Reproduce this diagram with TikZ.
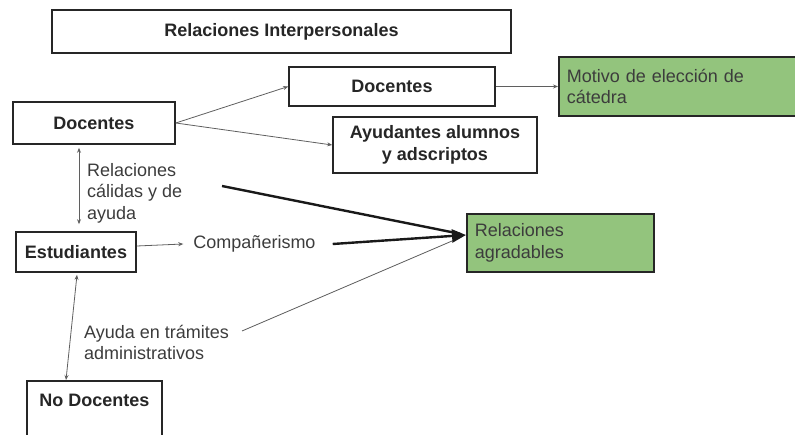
\documentclass[tikz,border=0pt]{standalone}
\usepackage{fontspec}
\setmainfont{Liberation Sans}
\usetikzlibrary{arrows.meta}
\definecolor{boxgreen}{RGB}{147,196,125}
\definecolor{textgray}{RGB}{60,60,60}
\definecolor{linegray}{RGB}{95,95,95}

\begin{document}
\begin{tikzpicture}[x=1pt,y=-1pt,
  box/.style={draw=black!85,line width=1.6pt,fill=white,font=\fontsize{18}{21.5}\selectfont\bfseries,text=black!85,align=center,inner sep=0pt},
  greenbox/.style={draw=black!85,line width=1.6pt,fill=boxgreen,font=\fontsize{18}{21.5}\selectfont,text=textgray,align=left,inner xsep=8pt,inner ysep=0pt,anchor=west},
  lbl/.style={font=\fontsize{18}{21.5}\selectfont,text=textgray,align=left,inner sep=0pt},
  thinline/.style={draw=linegray,line width=0.8pt},
  thinarrow/.style={thinline,-{Stealth[length=5pt,width=4pt]}},
  boldline/.style={draw=black!90,line width=2.4pt}]
\useasboundingbox (0,0) rectangle (795,435);
% Boxes
\node[box,minimum width=459pt,minimum height=43pt] (inter) at (281.5,31.5) {Relaciones Interpersonales};
\node[box,minimum width=206pt,minimum height=39pt] (docA) at (392,86.5) {Docentes};
\node[greenbox,minimum width=260pt,minimum height=59pt,text width=244pt] (motivo) at (558,86.5) {Motivo de elección de\\cátedra};
\node[box,minimum width=204pt,minimum height=56pt] (ayud) at (435,145) {Ayudantes alumnos\\y adscriptos};
\node[box,minimum width=162pt,minimum height=42pt] (docL) at (94,123) {Docentes};
\node[box,minimum width=120pt,minimum height=40pt] (estu) at (76,252) {Estudiantes};
\node[greenbox,minimum width=187pt,minimum height=58pt,text width=171pt] (agrad) at (466,243) {Relaciones\\agradables};
\node[box,anchor=north,minimum width=135pt,inner ysep=13pt,text height=13pt,text depth=50pt] (nodoc) at (94.5,380) {No Docentes};
% Labels
\node[lbl,anchor=west] (calida) at (87,193) {Relaciones\\cálidas y de\\ayuda};
\node[lbl] (comp) at (254.5,244) {Compañerismo};
\node[lbl,anchor=west] (tramite) at (84,342.5) {Ayuda en trámites\\administrativos};
\coordinate (cal) at (222,186);
\coordinate (adm) at (242,331);
\coordinate (tip) at ([yshift=8pt]agrad.west);
% Connectors
\draw[thinarrow] (docL.east) -- (docA.west);
\draw[thinarrow] (docL.east) -- (ayud.west);
\draw[thinarrow] (docA.east) -- (motivo.west);
\draw[thinline,{Stealth[length=5pt,width=4pt]}-{Stealth[length=5pt,width=4pt]}] ([xshift=-15pt,yshift=-3pt]docL.south) -- ([xshift=3pt,yshift=7pt]estu.north);
\draw[thinline,{Stealth[length=5pt,width=4pt]}-{Stealth[length=5pt,width=4pt]}] ([xshift=1pt,yshift=-2pt]estu.south) -- ([xshift=-28.5pt]nodoc.north);
\draw[thinarrow] ([yshift=6pt]estu.east) -- ([xshift=-10pt]comp.west);
\draw[thinline,shorten >=5pt] (adm) -- (tip);
\draw[boldline,shorten >=6pt] (cal) -- (tip);
\draw[boldline,-{Triangle[length=14pt,width=13pt]}] ([xshift=17pt]comp.east) -- (tip);
\end{tikzpicture}
\end{document}
